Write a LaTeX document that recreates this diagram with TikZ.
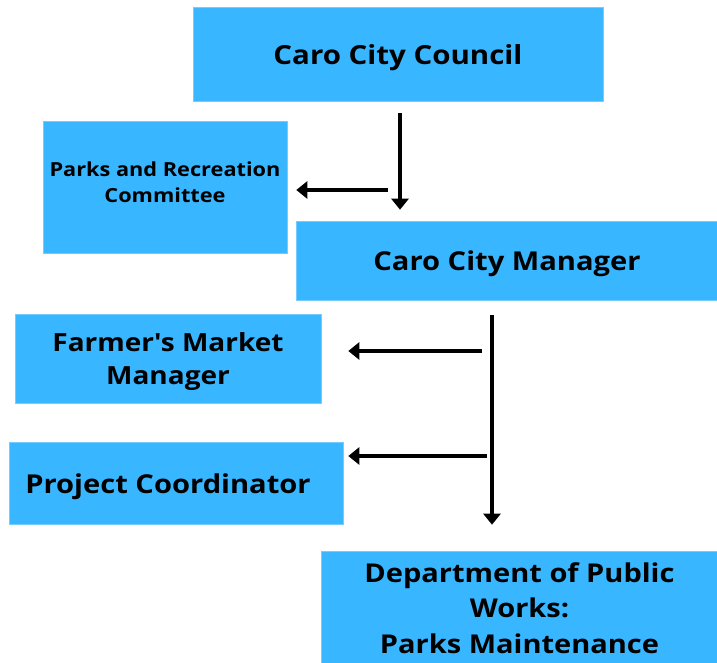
\documentclass[tikz,border=0pt]{standalone}
\usepackage{fontspec}
\setmainfont{Open Sans}[BoldFont={* Bold}, FakeStretch=1.12]
\usetikzlibrary{arrows.meta}
\definecolor{boxblue}{HTML}{38B6FF}
\newcommand\myvshift[2]{\raisebox{#1}[\height][\depth]{#2}}
\tikzset{
  orgbox/.style={fill=boxblue, draw=boxblue!70!white, line width=0.6pt, inner sep=0pt, align=center, font=\bfseries},
  arr/.style={line width=3.6pt, -{Triangle[width=17pt,length=11pt]}}
}
\begin{document}
\begin{tikzpicture}[x=1pt,y=-1pt]
\useasboundingbox (0,0) rectangle (717,662);
% boxes
\node[orgbox, minimum width=410, minimum height=94, font=\bfseries\fontsize{26.3}{30}\selectfont] (council) at (398,54.5) {\myvshift{-3.5pt}{Caro City Council}};
\node[orgbox, minimum width=244, minimum height=132, font=\bfseries\fontsize{19.4}{26}\selectfont] (parks) at (165,187) {\myvshift{3pt}{\begin{tabular}{@{}c@{}}Parks and Recreation\\Committee\end{tabular}}};
\node[orgbox, minimum width=422, minimum height=79, font=\bfseries\fontsize{26}{30}\selectfont] (manager) at (507,260.5) {\myvshift{-3.5pt}{Caro City Manager}};
\node[orgbox, minimum width=306, minimum height=89, font=\bfseries\fontsize{25}{33}\selectfont] (farmer) at (168,358.5) {\myvshift{-2.5pt}{\begin{tabular}{@{}c@{}}Farmer\textquotesingle s Market\\Manager\end{tabular}}};
\node[orgbox, minimum width=334, minimum height=82, font=\bfseries\fontsize{26}{30}\selectfont] (project) at (176,483) {\myvshift{-3.5pt}{Project Coordinator\hspace{16pt}}};
\node[orgbox, minimum width=397, minimum height=114, font=\bfseries\fontsize{25.9}{35.5}\selectfont] (dept) at (519.5,608) {Department of Public\\Works:\\Parks Maintenance};
% connector start points
\coordinate (c1) at (400,113);
\coordinate (c2) at (388,190);
\coordinate (c3) at (492,315);
\coordinate (c4) at (482,351);
\coordinate (c5) at (487,456);
% arrows
\draw[arr, shorten >=11pt] (c1) -- (c1 |- manager.north);
\draw[arr, shorten >=9pt] (c2) -- (c2 -| parks.east);
\draw[arr, shorten >=26pt] (c3) -- (c3 |- dept.north);
\draw[arr, shorten >=27pt] (c4) -- (c4 -| farmer.east);
\draw[arr, shorten >=5pt] (c5) -- (c5 -| project.east);
\end{tikzpicture}
\end{document}
